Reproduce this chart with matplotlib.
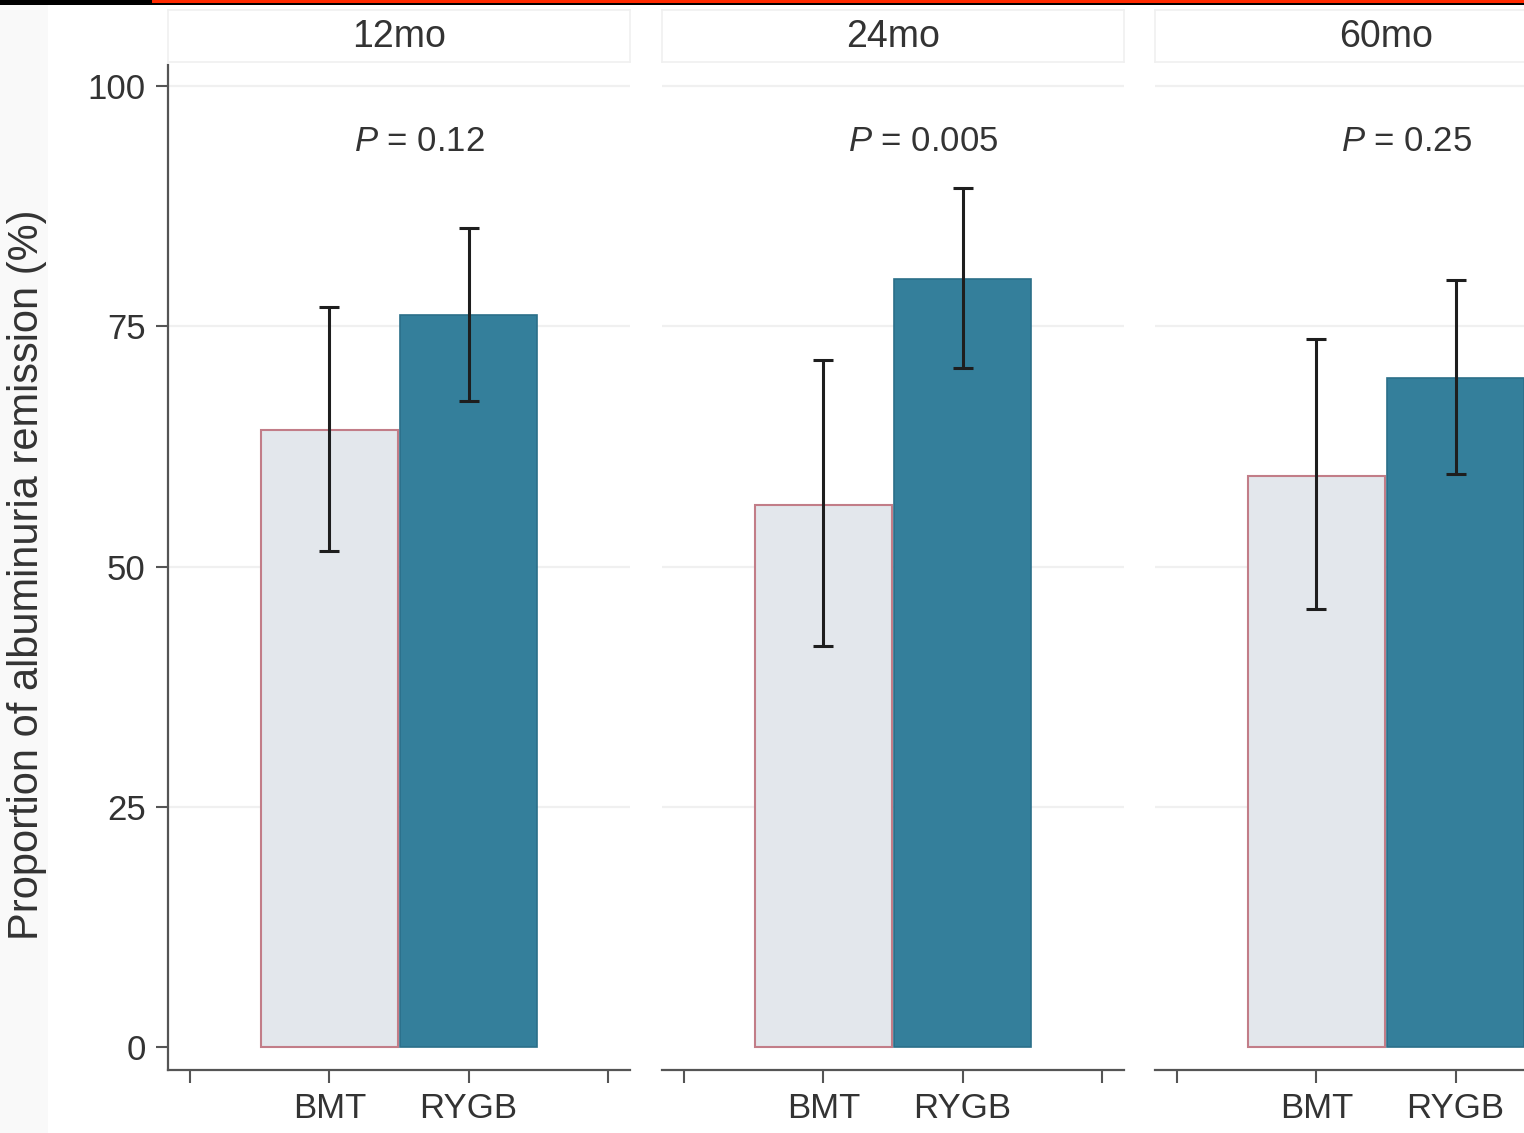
import matplotlib.pyplot as plt
from matplotlib.patches import Rectangle

# values
panels = ["12mo", "24mo", "60mo"]
groups = ["BMT", "RYGB"]
p_values = ["0.12", "0.005", "0.25"]
bmt = [64.2, 56.4, 59.4]
bmt_lo = [51.6, 41.7, 45.6]
bmt_hi = [77.0, 71.5, 73.7]
rygb = [76.2, 79.9, 69.6]
rygb_lo = [67.2, 70.7, 59.6]
rygb_hi = [85.2, 89.4, 79.8]
yticks = [0, 25, 50, 75, 100]

plt.rcParams["font.family"] = ["Liberation Sans", "DejaVu Sans"]
plt.rcParams["mathtext.fontset"] = "custom"
plt.rcParams["mathtext.it"] = "Liberation Sans:italic"
plt.rcParams["mathtext.rm"] = "Liberation Sans"

W, H = 1524, 1133
fig = plt.figure(figsize=(W / 100, H / 100), dpi=100)
fig.patch.set_facecolor("white")

txt = "#333333"
axc = "#555555"

# screenshot edges
fig.patches.append(Rectangle((0, 0), 48 / W, 1, transform=fig.transFigure,
                             facecolor="#f9f9f9", edgecolor="none", zorder=0))
fig.patches.append(Rectangle((0, 1 - 5 / H), 1, 5 / H, transform=fig.transFigure,
                             facecolor="black", edgecolor="none", zorder=5))
fig.patches.append(Rectangle((152 / W, 1 - 2.5 / H), 1, 2.5 / H, transform=fig.transFigure,
                             facecolor="#ff2a00", edgecolor="none", zorder=6))

lefts = [168, 662, 1155]
pw = 462
top, bottom = 65, 1070

for i, name in enumerate(panels):
    ax = fig.add_axes([lefts[i] / W, 1 - bottom / H, pw / W, (bottom - top) / H])
    ax.set_facecolor("none")
    ax.set_xlim(-0.16, 3.16)
    ax.set_ylim(-2.4, 102.2)

    ax.bar(1, bmt[i], width=0.99, color="#e3e7ec", edgecolor="#c27d88", linewidth=1.5, zorder=2)
    ax.bar(2, rygb[i], width=0.99, color="#347f9b", edgecolor="#2b6f89", linewidth=1.2, zorder=2)
    ax.errorbar([1, 2], [bmt[i], rygb[i]],
                yerr=[[bmt[i] - bmt_lo[i], rygb[i] - rygb_lo[i]],
                      [bmt_hi[i] - bmt[i], rygb_hi[i] - rygb[i]]],
                fmt="none", ecolor="#1e1e1e", elinewidth=2.2, capsize=7.5, capthick=2.2, zorder=3)

    for y in yticks[1:]:
        ax.axhline(y, color="#f0f0f0", linewidth=1.6, zorder=1)

    ax.text(1.18, 94.2, r"$\mathit{P}$ = " + p_values[i], fontsize=25, color=txt,
            ha="left", va="center")

    ax.set_xticks([0, 1, 2, 3])
    ax.set_xticklabels([""] + groups + [""], fontsize=25, color=txt)
    ax.tick_params(axis="x", direction="out", length=9, width=1.5, color=axc, pad=7)
    for s in ["top", "right"]:
        ax.spines[s].set_visible(False)
    ax.spines["bottom"].set_color(axc)
    ax.spines["bottom"].set_linewidth(1.6)
    if i == 0:
        ax.set_yticks(yticks)
        ax.set_yticklabels([str(v) for v in yticks], fontsize=25, color=txt)
        ax.tick_params(axis="y", direction="out", length=9, width=1.5, color=axc, pad=7)
        ax.spines["left"].set_color(axc)
        ax.spines["left"].set_linewidth(1.6)
    else:
        ax.spines["left"].set_visible(False)
        ax.set_yticks([])

    # facet strip
    sax = fig.add_axes([lefts[i] / W, 1 - 62 / H, pw / W, 52 / H])
    sax.set_xticks([])
    sax.set_yticks([])
    sax.set_facecolor("white")
    for s in sax.spines.values():
        s.set_color("#f0f0f0")
        s.set_linewidth(1.2)
    sax.text(0.5, 0.48, name, transform=sax.transAxes, fontsize=27, color=txt,
             ha="center", va="center")

fig.text(27 / W, 1 - 575 / H, "Proportion of albuminuria remission (%)", rotation=90,
         fontsize=30, color=txt, ha="center", va="center")

fig.savefig("out.png", dpi=100)
